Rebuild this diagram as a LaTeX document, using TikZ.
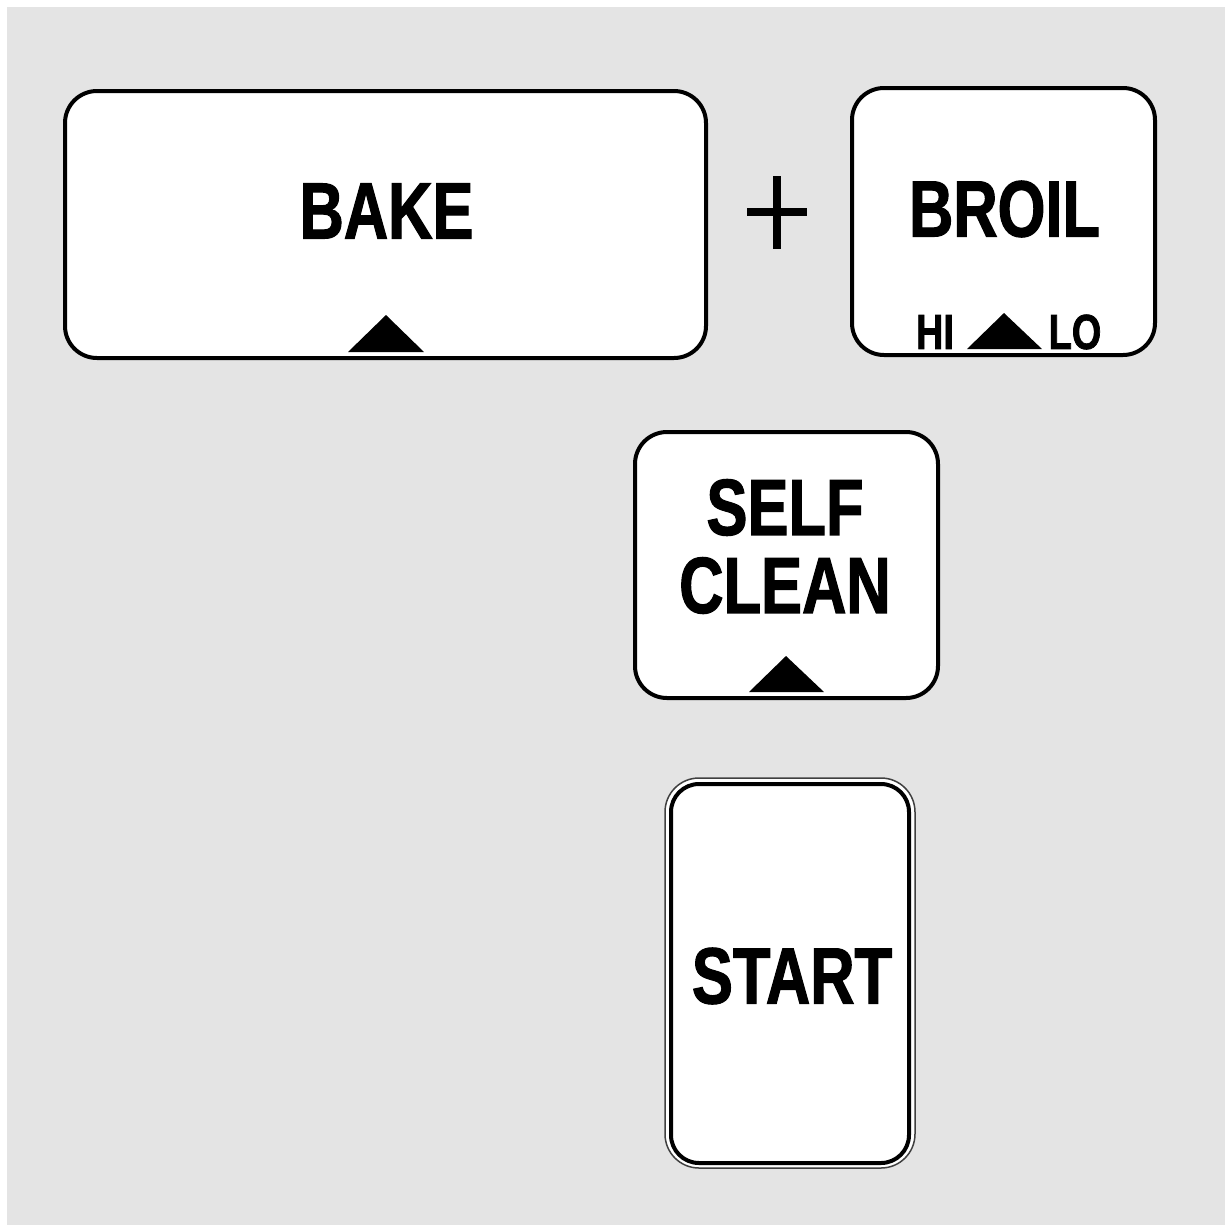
\documentclass[tikz,border=0pt]{standalone}
\usepackage{fontspec}
\newfontfamily\keyfont[FakeStretch=0.77,FakeBold=1.4]{Liberation Sans}
\usetikzlibrary{positioning}
\definecolor{panel}{HTML}{E4E4E4}
\tikzset{%
    key/.style={draw=black, fill=white, line width=0.4mm, rounded corners=3.2mm},
    keylabel/.style={inner sep=0pt, font=\keyfont\bfseries\fontsize{22.7}{22.2}\selectfont},
    small keylabel/.style={inner sep=0pt, font=\keyfont\bfseries\fontsize{14}{14}\selectfont},
    pointer/.style={fill=black},
}
\begin{document}
\begin{tikzpicture}[x=0.1mm,y=-0.1mm]
\fill [white] (0,0) rectangle (1225,1225);
\fill [panel] (7,7) rectangle (1225,1225);
% keys
\draw [key] (65,91) rectangle (706,358);
\draw [key] (852,88) rectangle (1155,355);
\draw [key] (635,432) rectangle (938,698);
\draw [key, line width=0.15mm, draw=black!75, rounded corners=3.4mm] (665,778) rectangle (915,1168);
\draw [key, rounded corners=2.8mm] (671,784) rectangle (909,1163);
% labels
\node (bake) [keylabel] at (386.5,211) {BAKE};
\node (broil) [keylabel] at (1004.5,209) {BROIL};
\node (selfclean) [keylabel, align=center] at (785,546.5) {SELF\\CLEAN};
\node (start) [keylabel] at (792,976) {START};
\node (hi) [small keylabel] at (935,332) {HI};
\node (lo) [small keylabel] at (1075,332) {LO};
% pointers
\fill [pointer] (348,352) -- (386,315) -- (424,352) -- cycle;
\fill [pointer] (967,349) -- (1004,313) -- (1042,349) -- cycle;
\fill [pointer] (749,692) -- (786,656) -- (824,692) -- cycle;
% plus
\draw [line width=0.8mm] (747,212) -- (807,212) (777,176) -- (777,249);
\end{tikzpicture}
\end{document}
